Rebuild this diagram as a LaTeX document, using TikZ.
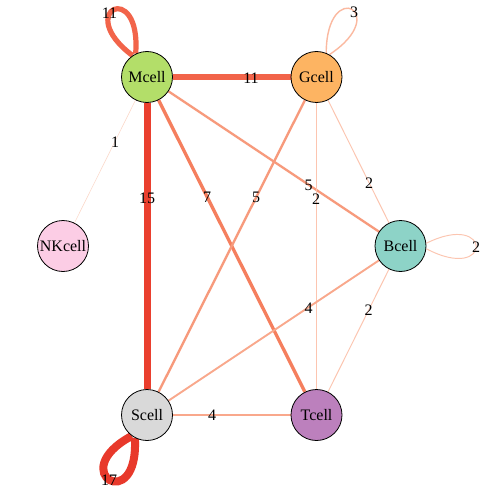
\documentclass[tikz,border=0pt]{standalone}
\usepackage{fontspec}
\setmainfont{Liberation Serif}
\usetikzlibrary{backgrounds}
\definecolor{cM}{HTML}{B3DE69}
\definecolor{cG}{HTML}{FDB462}
\definecolor{cNK}{HTML}{FCCDE5}
\definecolor{cB}{HTML}{8DD3C7}
\definecolor{cS}{HTML}{D9D9D9}
\definecolor{cT}{HTML}{BC80BD}
\definecolor{w17}{HTML}{E8392B}
\definecolor{w15}{HTML}{EA3F2E}
\definecolor{w11}{HTML}{F2644A}
\definecolor{w7}{HTML}{F57F5E}
\definecolor{w5}{HTML}{F79A7C}
\definecolor{w4}{HTML}{F9A88C}
\definecolor{w3}{HTML}{FBB9A0}
\definecolor{w2}{HTML}{FCC5B0}
\definecolor{w1}{HTML}{FCD6C6}
\begin{document}
\begin{tikzpicture}[x=1pt,y=-1pt,
  cell/.style={circle,draw=black,line width=0.8pt,minimum size=51pt,inner sep=0pt,font=\fontsize{16}{16}\selectfont},
  lab/.style={inner sep=0pt,font=\fontsize{16}{16}\selectfont},
  edg/.style={line cap=butt}]
\useasboundingbox (0,0) rectangle (484,492);
% cells
\node[cell,fill=cM] (M) at (147,77) {Mcell};
\node[cell,fill=cG] (G) at (316.5,77) {Gcell};
\node[cell,fill=cNK] (NK) at (63,246) {NKcell};
\node[cell,fill=cB] (B) at (400.5,246) {Bcell};
\node[cell,fill=cS] (S) at (147,415) {Scell};
\node[cell,fill=cT] (T) at (316.5,415) {Tcell};
\begin{scope}[on background layer]
\fill[white] (0,0) rectangle (484,492);
% straight edges
\draw[edg,w15,line width=7pt] (M) -- (S);
\draw[edg,w11,line width=5.2pt] (M) -- (G);
\draw[edg,w1,line width=0.5pt] (M) -- (NK);
\draw[edg,w7,line width=3.3pt] (M) -- (T);
\draw[edg,w5,line width=2.35pt] (M) -- (B);
\draw[edg,w5,line width=2.35pt] (G) -- (S);
\draw[edg,w2,line width=0.95pt] (G) -- (T);
\draw[edg,w2,line width=0.95pt] (G) -- (B);
\draw[edg,w4,line width=1.9pt] (B) -- (S);
\draw[edg,w2,line width=0.95pt] (B) -- (T);
\draw[edg,w4,line width=1.9pt] (S) -- (T);
% loops
\draw[edg,w11,line width=5.2pt] (M.116) .. controls (141.5,-21.5) and (72.5,10.5) .. (M.124);
\draw[edg,w3,line width=1.4pt] (G.60) .. controls (393,12.6) and (326.6,-23.8) .. (G.68);
\draw[edg,w2,line width=0.95pt] (B.-6) .. controls (493,284) and (493,210) .. (B.6);
\draw[edg,w17,line width=8pt] (S.242) .. controls (139.4,516.4) and (63.8,472.4) .. (S.234);
\end{scope}
% labels
\node[lab] (lMM) at (109.5,13) {11};
\node[lab] (lMG) at (251,78) {11};
\node[lab] (lMNK) at (115,142) {1};
\node[lab] (lMS) at (147,198) {15};
\node[lab] (lMT) at (207,197.5) {7};
\node[lab] (lGS) at (256,197.5) {5};
\node[lab] (lMB) at (308.5,185) {5};
\node[lab] (lGT) at (316,199.5) {2};
\node[lab] (lGB) at (369,183) {2};
\node[lab] (lGG) at (354,12) {3};
\node[lab] (lBB) at (476,247) {2};
\node[lab] (lBS) at (308.5,308.5) {4};
\node[lab] (lBT) at (368.5,310.5) {2};
\node[lab] (lST) at (212,415) {4};
\node[lab] (lSS) at (109,480) {17};
\end{tikzpicture}
\end{document}
